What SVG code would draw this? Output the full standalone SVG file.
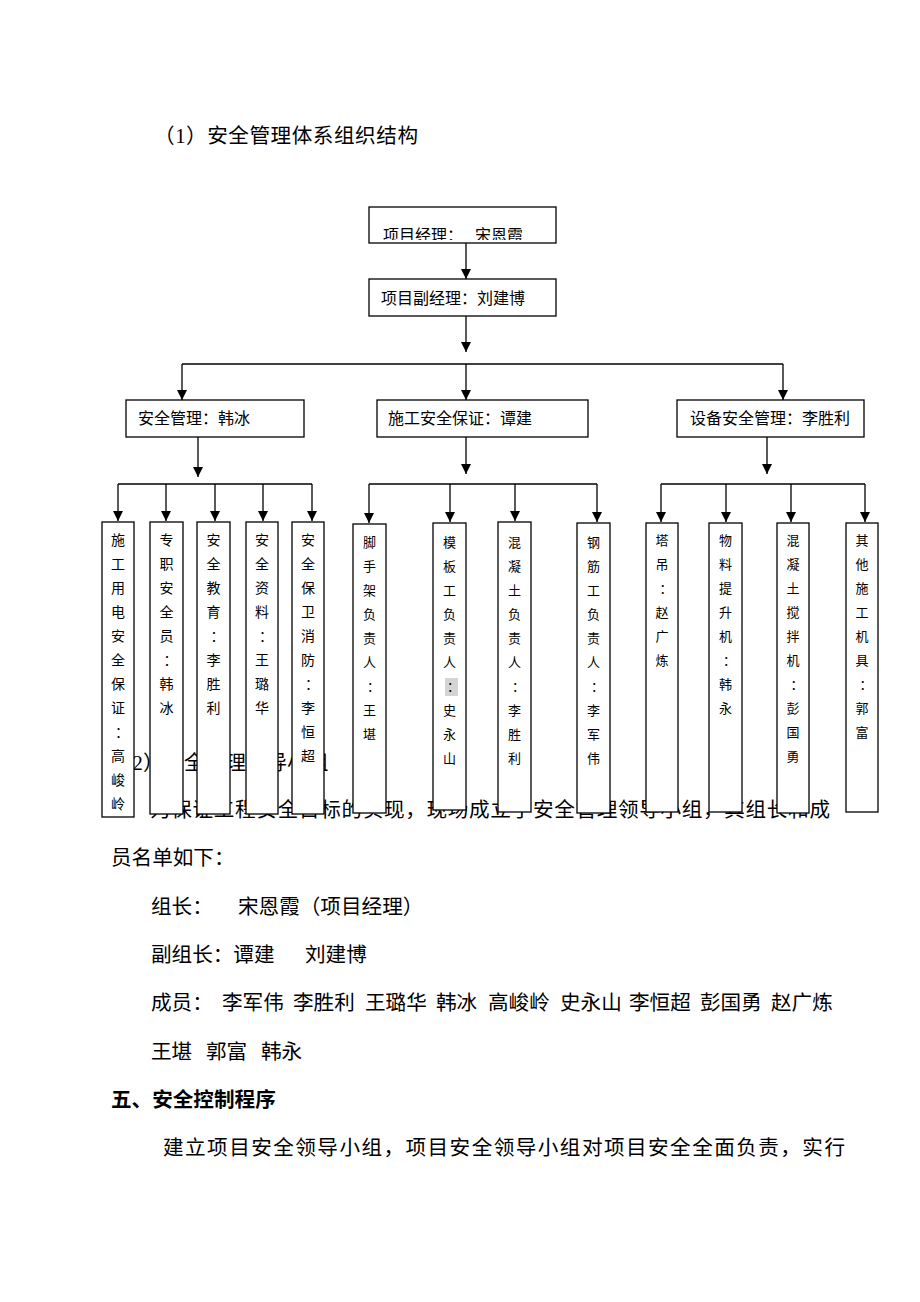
<svg xmlns="http://www.w3.org/2000/svg" width="920" height="1302" viewBox="0 0 920 1302">
<style>
.body{font-family:"Liberation Serif","Noto Sans CJK SC",serif;font-size:20.6px;fill:#000}
.bold{font-weight:bold}
.box{fill:#fff;stroke:#000;stroke-width:1.3}
.lbl{font-family:"Liberation Sans","Noto Sans CJK SC",sans-serif;font-size:16px;fill:#000}
.v{font-family:"Liberation Sans","Noto Sans CJK SC",sans-serif;font-size:14px;fill:#000;text-anchor:middle}
.v2{font-family:"Liberation Sans","Noto Sans CJK SC",sans-serif;font-size:13px;fill:#000;text-anchor:middle}
.ln{fill:none;stroke:#000;stroke-width:1.3}
.ar{fill:none;stroke:#000;stroke-width:1.3;marker-end:url(#ah)}
</style>
<defs>
<marker id="ah" markerUnits="userSpaceOnUse" markerWidth="10" markerHeight="11" refX="10" refY="5" orient="auto">
<path d="M0,0 L10,5 L0,10 z" fill="#000"/>
</marker>
<clipPath id="c1"><rect x="369" y="207" width="187" height="33"/></clipPath>
</defs>
<rect width="920" height="1302" fill="#fff"/>

<g id="body-text">
<text class="body" x="154" y="143" textLength="264" lengthAdjust="spacing">（1）安全管理体系组织结构</text>
<text class="body" x="112" y="770">（2）安全管理领导小组</text>
<text class="body" x="150" y="817" textLength="680" lengthAdjust="spacing">为保证工程安全目标的实现，现场成立了安全管理领导小组，其组长和成</text>
<text class="body" x="111" y="865">员名单如下：</text>
<text class="body" y="914"><tspan x="151">组长：</tspan><tspan x="238">宋恩霞（项目经理）</tspan></text>
<text class="body" y="962"><tspan x="151">副组长：谭建</tspan><tspan x="305">刘建博</tspan></text>
<text class="body" y="1010"><tspan x="151">成员：</tspan><tspan x="222">李军伟</tspan><tspan x="293">李胜利</tspan><tspan x="365">王璐华</tspan><tspan x="436">韩冰</tspan><tspan x="488">高峻岭</tspan><tspan x="560">史永山</tspan><tspan x="629">李恒超</tspan><tspan x="700">彭国勇</tspan><tspan x="771">赵广炼</tspan></text>
<text class="body" y="1059"><tspan x="151">王堪</tspan><tspan x="206">郭富</tspan><tspan x="261">韩永</tspan></text>
<text class="body bold" x="111" y="1107">五、安全控制程序</text>
<text class="body" x="163" y="1155" textLength="682" lengthAdjust="spacing">建立项目安全领导小组，项目安全领导小组对项目安全全面负责，实行</text>
</g>

<g id="connectors">
<line class="ar" x1="466" y1="243" x2="466" y2="279"/>
<line class="ar" x1="466" y1="316" x2="466" y2="352"/>
<polyline class="ln" points="182,364 783,364"/>
<line class="ar" x1="182" y1="364" x2="182" y2="400"/>
<line class="ar" x1="466" y1="364" x2="466" y2="400"/>
<line class="ar" x1="783" y1="364" x2="783" y2="400"/>

<line class="ar" x1="198" y1="437" x2="198" y2="477"/>
<polyline class="ln" points="118,484 312,484"/>
<line class="ar" x1="118" y1="484" x2="118" y2="521"/>
<line class="ar" x1="166" y1="484" x2="166" y2="521"/>
<line class="ar" x1="215" y1="484" x2="215" y2="521"/>
<line class="ar" x1="263" y1="484" x2="263" y2="521"/>
<line class="ar" x1="312" y1="484" x2="312" y2="521"/>

<line class="ar" x1="466" y1="437" x2="466" y2="474"/>
<polyline class="ln" points="369,484 597,484"/>
<line class="ar" x1="369" y1="484" x2="369" y2="523"/>
<line class="ar" x1="450" y1="484" x2="450" y2="522"/>
<line class="ar" x1="515" y1="484" x2="515" y2="521"/>
<line class="ar" x1="597" y1="484" x2="597" y2="522"/>

<line class="ar" x1="767" y1="437" x2="767" y2="474"/>
<polyline class="ln" points="661,484 865,484"/>
<line class="ar" x1="661" y1="484" x2="661" y2="522"/>
<line class="ar" x1="726" y1="484" x2="726" y2="522"/>
<line class="ar" x1="791" y1="484" x2="791" y2="522"/>
<line class="ar" x1="865" y1="484" x2="865" y2="522"/>
</g>

<g id="n-pm">
<rect class="box" x="369" y="207" width="187" height="36"/>
<text class="lbl" y="241" clip-path="url(#c1)"><tspan x="383">项目经理：</tspan><tspan x="475">宋恩霞</tspan></text>
</g>
<g id="n-dpm">
<rect class="box" x="369" y="279" width="187" height="37"/>
<text class="lbl" x="381" y="304">项目副经理：刘建博</text>
</g>
<g id="n-safety">
<rect class="box" x="126" y="400" width="178" height="37"/>
<text class="lbl" x="138" y="424">安全管理：韩冰</text>
</g>
<g id="n-construct">
<rect class="box" x="377" y="400" width="211" height="37"/>
<text class="lbl" x="388" y="424">施工安全保证：谭建</text>
</g>
<g id="n-equip">
<rect class="box" x="677" y="400" width="187" height="37"/>
<text class="lbl" x="690" y="424">设备安全管理：李胜利</text>
</g>

<g id="n-g1a">
<rect class="box" x="102" y="522" width="32" height="295"/>
<text class="v"><tspan x="118" y="545">施</tspan><tspan x="118" y="569">工</tspan><tspan x="118" y="593">用</tspan><tspan x="118" y="617">电</tspan><tspan x="118" y="641">安</tspan><tspan x="118" y="665">全</tspan><tspan x="118" y="689">保</tspan><tspan x="118" y="713">证</tspan><tspan x="122" y="737">：</tspan><tspan x="118" y="761">高</tspan><tspan x="118" y="785">峻</tspan><tspan x="118" y="809">岭</tspan></text>
</g>
<g id="n-g1b">
<rect class="box" x="150" y="522" width="33" height="292"/>
<text class="v"><tspan x="166.5" y="545">专</tspan><tspan x="166.5" y="569">职</tspan><tspan x="166.5" y="593">安</tspan><tspan x="166.5" y="617">全</tspan><tspan x="166.5" y="641">员</tspan><tspan x="170.5" y="665">：</tspan><tspan x="166.5" y="689">韩</tspan><tspan x="166.5" y="713">冰</tspan></text>
</g>
<g id="n-g1c">
<rect class="box" x="197" y="522" width="33" height="292"/>
<text class="v"><tspan x="213.5" y="545">安</tspan><tspan x="213.5" y="569">全</tspan><tspan x="213.5" y="593">教</tspan><tspan x="213.5" y="617">育</tspan><tspan x="217.5" y="641">：</tspan><tspan x="213.5" y="665">李</tspan><tspan x="213.5" y="689">胜</tspan><tspan x="213.5" y="713">利</tspan></text>
</g>
<g id="n-g1d">
<rect class="box" x="246" y="522" width="32" height="292"/>
<text class="v"><tspan x="262" y="545">安</tspan><tspan x="262" y="569">全</tspan><tspan x="262" y="593">资</tspan><tspan x="262" y="617">料</tspan><tspan x="266" y="641">：</tspan><tspan x="262" y="665">王</tspan><tspan x="262" y="689">璐</tspan><tspan x="262" y="713">华</tspan></text>
</g>
<g id="n-g1e">
<rect class="box" x="292" y="522" width="32" height="292"/>
<text class="v"><tspan x="308" y="545">安</tspan><tspan x="308" y="569">全</tspan><tspan x="308" y="593">保</tspan><tspan x="308" y="617">卫</tspan><tspan x="308" y="641">消</tspan><tspan x="308" y="665">防</tspan><tspan x="312" y="689">：</tspan><tspan x="308" y="713">李</tspan><tspan x="308" y="737">恒</tspan><tspan x="308" y="761">超</tspan></text>
</g>

<g id="n-g2a">
<rect class="box" x="353" y="524" width="33" height="289"/>
<text class="v2"><tspan x="369.5" y="547">脚</tspan><tspan x="369.5" y="571">手</tspan><tspan x="369.5" y="595">架</tspan><tspan x="369.5" y="619">负</tspan><tspan x="369.5" y="643">责</tspan><tspan x="369.5" y="667">人</tspan><tspan x="373.5" y="691">：</tspan><tspan x="369.5" y="715">王</tspan><tspan x="369.5" y="739">堪</tspan></text>
</g>
<g id="n-g2b">
<rect class="box" x="433" y="523" width="33" height="287"/>
<rect x="445" y="678" width="13" height="18" fill="#d4d4d4"/>
<text class="v2"><tspan x="449.5" y="547">模</tspan><tspan x="449.5" y="571">板</tspan><tspan x="449.5" y="595">工</tspan><tspan x="449.5" y="619">负</tspan><tspan x="449.5" y="643">责</tspan><tspan x="449.5" y="667">人</tspan><tspan x="453.5" y="691">：</tspan><tspan x="449.5" y="715">史</tspan><tspan x="449.5" y="739">永</tspan><tspan x="449.5" y="763">山</tspan></text>
</g>
<g id="n-g2c">
<rect class="box" x="498" y="522" width="33" height="290"/>
<text class="v2"><tspan x="514.5" y="547">混</tspan><tspan x="514.5" y="571">凝</tspan><tspan x="514.5" y="595">土</tspan><tspan x="514.5" y="619">负</tspan><tspan x="514.5" y="643">责</tspan><tspan x="514.5" y="667">人</tspan><tspan x="518.5" y="691">：</tspan><tspan x="514.5" y="715">李</tspan><tspan x="514.5" y="739">胜</tspan><tspan x="514.5" y="763">利</tspan></text>
</g>
<g id="n-g2d">
<rect class="box" x="577" y="523" width="33" height="290"/>
<text class="v2"><tspan x="593.5" y="547">钢</tspan><tspan x="593.5" y="571">筋</tspan><tspan x="593.5" y="595">工</tspan><tspan x="593.5" y="619">负</tspan><tspan x="593.5" y="643">责</tspan><tspan x="593.5" y="667">人</tspan><tspan x="597.5" y="691">：</tspan><tspan x="593.5" y="715">李</tspan><tspan x="593.5" y="739">军</tspan><tspan x="593.5" y="763">伟</tspan></text>
</g>

<g id="n-g3a">
<rect class="box" x="646" y="523" width="32" height="289"/>
<text class="v2"><tspan x="662" y="545">塔</tspan><tspan x="662" y="569">吊</tspan><tspan x="666" y="593">：</tspan><tspan x="662" y="617">赵</tspan><tspan x="662" y="641">广</tspan><tspan x="662" y="665">炼</tspan></text>
</g>
<g id="n-g3b">
<rect class="box" x="709" y="523" width="33" height="289"/>
<text class="v2"><tspan x="725.5" y="545">物</tspan><tspan x="725.5" y="569">料</tspan><tspan x="725.5" y="593">提</tspan><tspan x="725.5" y="617">升</tspan><tspan x="725.5" y="641">机</tspan><tspan x="729.5" y="665">：</tspan><tspan x="725.5" y="689">韩</tspan><tspan x="725.5" y="713">永</tspan></text>
</g>
<g id="n-g3c">
<rect class="box" x="777" y="523" width="32" height="290"/>
<text class="v2"><tspan x="793" y="545">混</tspan><tspan x="793" y="569">凝</tspan><tspan x="793" y="593">土</tspan><tspan x="793" y="617">搅</tspan><tspan x="793" y="641">拌</tspan><tspan x="793" y="665">机</tspan><tspan x="797" y="689">：</tspan><tspan x="793" y="713">彭</tspan><tspan x="793" y="737">国</tspan><tspan x="793" y="761">勇</tspan></text>
</g>
<g id="n-g3d">
<rect class="box" x="846" y="523" width="32" height="289"/>
<text class="v2"><tspan x="862" y="545">其</tspan><tspan x="862" y="569">他</tspan><tspan x="862" y="593">施</tspan><tspan x="862" y="617">工</tspan><tspan x="862" y="641">机</tspan><tspan x="862" y="665">具</tspan><tspan x="866" y="689">：</tspan><tspan x="862" y="713">郭</tspan><tspan x="862" y="737">富</tspan></text>
</g>
</svg>
